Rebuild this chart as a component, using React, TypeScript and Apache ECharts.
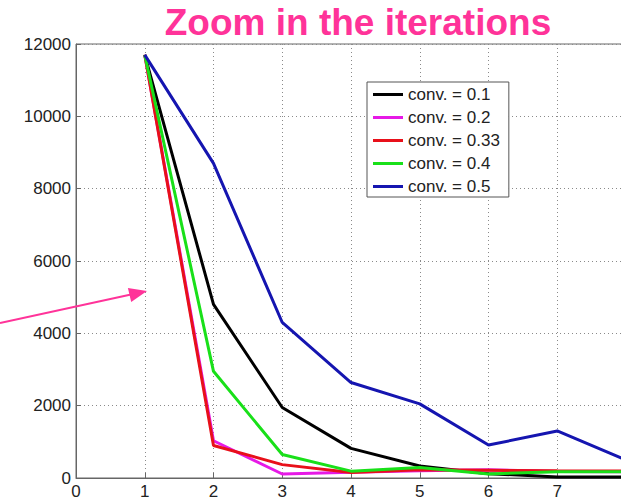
import React, { useEffect, useRef } from "react";
import * as echarts from "echarts";

const titleText = "Zoom in the iterations";
const iterations = [1, 2, 3, 4, 5, 6, 7, 8];
const seriesNames = ["conv. = 0.1", "conv. = 0.2", "conv. = 0.33", "conv. = 0.4", "conv. = 0.5"];
const conv01 = [11700, 4800, 1950, 820, 330, 120, 30, 30];
const conv02 = [11700, 1030, 110, 160, 200, 230, 180, 170];
const conv033 = [11700, 900, 370, 150, 230, 215, 200, 190];
const conv04 = [11700, 2950, 650, 190, 290, 110, 175, 170];
const conv05 = [11700, 8700, 4300, 2640, 2050, 910, 1300, 500];
const seriesValues = [conv01, conv02, conv033, conv04, conv05];
const seriesColors = ["#000000", "#e619e6", "#e8101a", "#19e019", "#1515b0"];

const FONT = "'Liberation Sans', Arial, Helvetica, sans-serif";

export default function App() {
  const ref = useRef<HTMLDivElement>(null);
  useEffect(() => {
    document.body.style.margin = "0";
    if (!ref.current) return;
    const chart = echarts.init(ref.current, null, { renderer: "svg" });
    const pink = "#ff3399";
    chart.setOption({
      animation: false,
      backgroundColor: "#ffffff",
      grid: {
        left: 76,
        top: 44,
        width: 550,
        height: 434,
        show: true,
        borderColor: "#666",
        borderWidth: 1,
        backgroundColor: "transparent",
        containLabel: false,
        outerBoundsMode: "none",
      },
      xAxis: {
        type: "value",
        min: 0,
        max: 8,
        interval: 1,
        axisLine: { lineStyle: { color: "#666", width: 1 } },
        axisTick: { inside: true, length: 5, lineStyle: { color: "#666" } },
        axisLabel: { fontSize: 17, color: "#222", fontFamily: FONT, margin: 5, hideOverlap: false },
        splitLine: { show: true, lineStyle: { color: "#8a8a8a", type: [1, 3], width: 1 } },
      },
      yAxis: {
        type: "value",
        min: 0,
        max: 12000,
        interval: 2000,
        axisLine: { show: true, lineStyle: { color: "#666", width: 1 } },
        axisTick: { show: true, inside: true, length: 5, lineStyle: { color: "#666" } },
        axisLabel: {
          fontSize: 17,
          color: "#222",
          fontFamily: FONT,
          margin: 5,
          formatter: (v: number) => String(v),
        },
        splitLine: { show: true, lineStyle: { color: "#8a8a8a", type: [1, 3], width: 1 } },
      },
      legend: {
        left: 367,
        top: 82,
        orient: "vertical",
        backgroundColor: "#ffffff",
        borderColor: "#555",
        borderWidth: 1,
        borderRadius: 0,
        padding: [4, 9, 2, 6],
        itemGap: 6,
        itemWidth: 30,
        itemHeight: 3,
        icon: "rect",
        data: seriesNames,
        textStyle: { fontSize: 17, lineHeight: 17, color: "#222", fontFamily: FONT, padding: [0, 0, 0, 0] },
      },
      graphic: [
        {
          type: "text",
          x: 358,
          y: 41,
          style: {
            text: titleText,
            fill: pink,
            font: `bold 37px ${FONT}`,
            align: "center",
            verticalAlign: "bottom",
          },
        },
        {
          type: "line",
          shape: { x1: 0, y1: 323, x2: 131, y2: 294.5 },
          style: { stroke: pink, lineWidth: 2 },
          z: 100,
        },
        {
          type: "polygon",
          shape: { points: [[147, 291], [127.9, 288], [131.2, 302]] },
          style: { fill: pink },
          z: 100,
        },
      ],
      series: seriesNames.map((name, i) => ({
        name,
        type: "line",
        symbol: "none",
        color: seriesColors[i],
        lineStyle: { color: seriesColors[i], width: 3 },
        data: iterations.map((x, j) => [x, seriesValues[i][j]]),
        z: 2 + i,
      })),
    });
    return () => chart.dispose();
  }, []);
  return <div ref={ref} style={{ width: 621, height: 500 }} />;
}
